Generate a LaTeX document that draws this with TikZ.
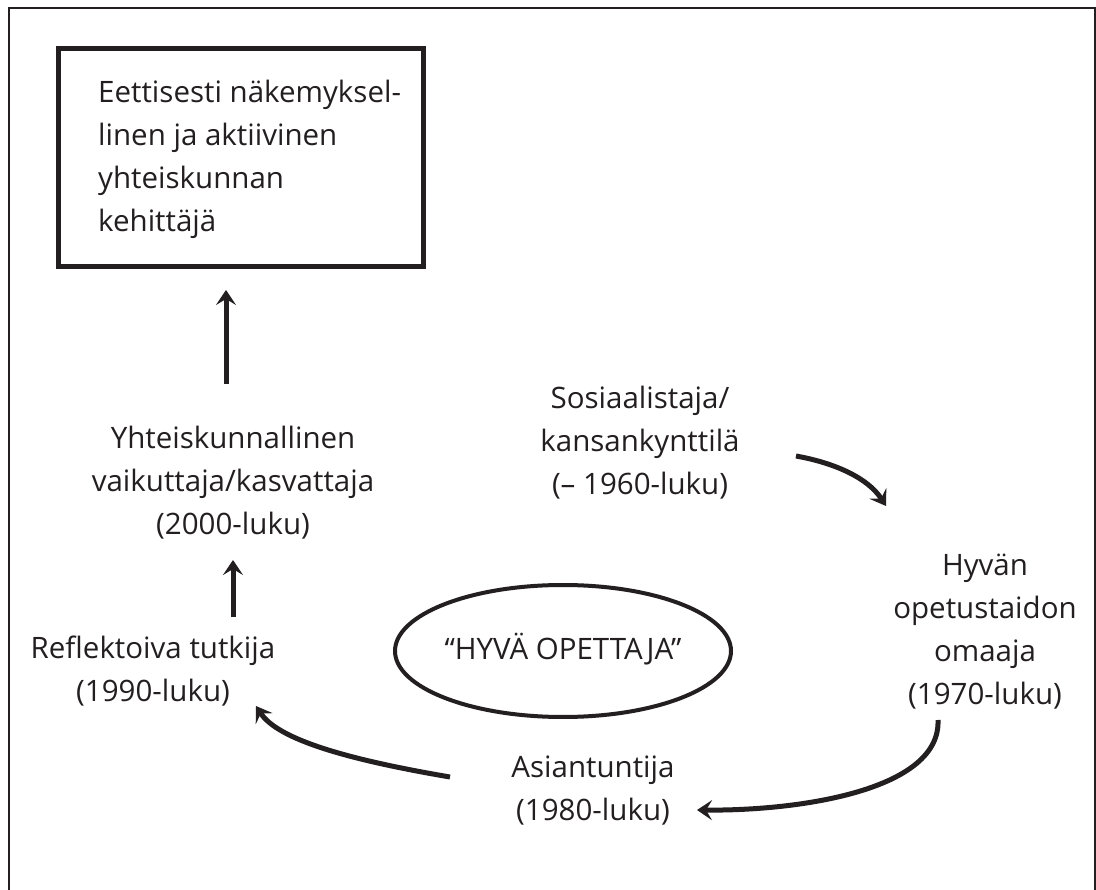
\documentclass[tikz,border=0pt]{standalone}
\usepackage{fontspec}
\setmainfont{Open Sans}
\usetikzlibrary{arrows.meta,shapes.geometric}
\definecolor{ink}{HTML}{231F20}
\tikzset{
  lbl/.style={text=ink, align=center, inner sep=0pt, font=\fontsize{29.5}{43}\selectfont},
  conn/.style={draw=ink, line width=5pt, -{Stealth[length=15pt,width=20pt,inset=6pt]}},
}
\begin{document}
\begin{tikzpicture}[x=1pt,y=-1pt]
\useasboundingbox (0,0) rectangle (1096,890);
\fill[white] (0,0) rectangle (1096,890);
% outer frame (bottom edge falls outside the picture)
\draw[ink, line width=2.5pt] (9,890) -- (9,8) -- (1095,8) -- (1095,890);
% top box
\node[draw=ink, line width=5pt, minimum width=365pt, minimum height=218pt, inner sep=0pt] (box) at (240.5,158) {};
\node[lbl, align=left, anchor=north west] (boxtxt) at (98,80) {Eettisesti näkemyksel-\\linen ja aktiivinen\\yhteiskunnan\\kehittäjä};
% labels
\node[lbl] (y2000) at (233,483) {Yhteiskunnallinen\\vaikuttaja/kasvattaja\\(2000-luku)};
\node[lbl] (y1990) at (153,671) {Reflektoiva tutkija\\(1990-luku)};
\node[lbl] (y1960) at (640,443) {Sosiaalistaja/\\kansankynttilä\\(– 1960-luku)};
\node[lbl] (y1970) at (985,632) {Hyvän\\opetustaidon\\omaaja\\(1970-luku)};
\node[lbl] (y1980) at (593,791) {Asiantuntija\\(1980-luku)};
\node[draw=ink, line width=4pt, ellipse, minimum width=336pt, minimum height=132pt, inner sep=0pt] (hyva) at (563,651) {};
\node[lbl] (hyvatxt) at (563,649) {“HYVÄ OPETTAJA”};
% connector end points
\coordinate (a1s) at (226,384);
\coordinate (a1e) at (226,290);
\coordinate (a2s) at (233,617);
\coordinate (a2e) at (233,560);
\coordinate (c1s) at (796,456);
\coordinate (c1e) at (886,506);
\coordinate (c2s) at (938,720);
\coordinate (c2e) at (697,810);
\coordinate (c3s) at (450,777);
\coordinate (c3e) at (256,706);
% connectors
\draw[conn] (a1s) -- (a1e);
\draw[conn] (a2s) -- (a2e);
\draw[conn] (c1s) .. controls (835,463) and (868,478) .. (c1e);
\draw[conn] (c2s) .. controls (941,790) and (800,811) .. (c2e);
\draw[conn] (c3s) .. controls (350,760) and (278,740) .. (c3e);
\end{tikzpicture}
\end{document}
